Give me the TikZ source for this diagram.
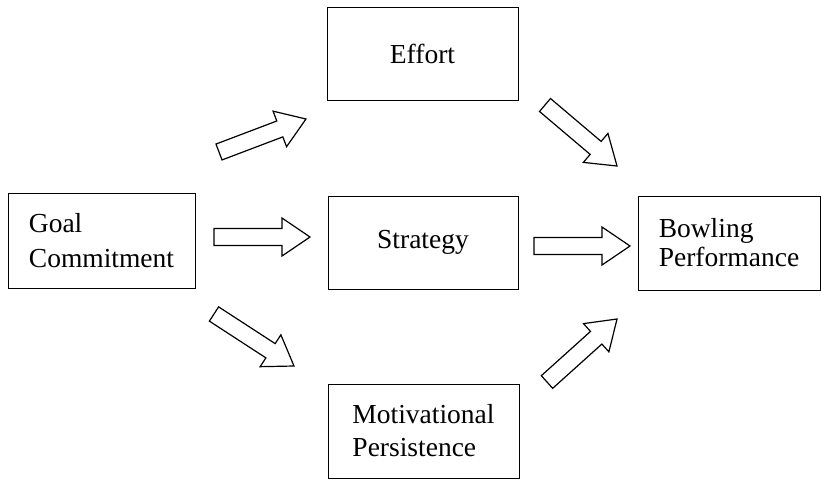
\documentclass[tikz,border=0pt]{standalone}
\usepackage{fontspec}
\setmainfont{Liberation Serif}
\usetikzlibrary{calc, positioning}

\begin{document}
\begin{tikzpicture}[
        x=1pt, y=-1pt,
        font=\fontsize{27.5}{33}\selectfont,
        box/.style={
            rectangle,
            draw=black,
            line width=1pt,
            align=left,
            inner sep=0pt,
            minimum width=190pt,
            minimum height=93pt
        },
        fatarrow/.style={
            draw=black,
            fill=white,
            line width=1.2pt,
            line join=miter,
            to path={
                ($(\tikztostart)!8.5pt!90:(\tikztotarget)$)
                -- ($(\tikztotarget)!28pt!(\tikztostart)!8.5pt!90:(\tikztotarget)$)
                -- ($(\tikztotarget)!28pt!(\tikztostart)!19pt!90:(\tikztotarget)$)
                -- (\tikztotarget)
                -- ($(\tikztotarget)!28pt!(\tikztostart)!19pt!-90:(\tikztotarget)$)
                -- ($(\tikztotarget)!28pt!(\tikztostart)!8.5pt!-90:(\tikztotarget)$)
                -- ($(\tikztostart)!8.5pt!-90:(\tikztotarget)$)
                -- cycle
            }
        }
    ]

    \useasboundingbox (0,0) rectangle (821,480);

    % Boxes
    \node[box, minimum width=187pt, minimum height=95pt, font=\fontsize{27.5}{35}\selectfont] (goal) at (101.5,240.5) {Goal\\Commitment};
    \node[box, minimum width=191pt] (effort) at (422.5,53.5) {Effort};
    \node[box] (strategy) at (423,242.5) {Strategy};
    \node[box, minimum width=182pt, minimum height=94pt, font=\fontsize{27.5}{29}\selectfont] (bowling) at (729,243) {Bowling\\Performance};
    \node[box, minimum width=191pt, minimum height=94pt] (motiv) at (423.5,431) {Motivational\\Persistence};

    % Arrow ends
    \coordinate (ge1) at (219,152);
    \coordinate (ge2) at (306,119);
    \coordinate (gs1) at (214,237);
    \coordinate (gs2) at (310,237);
    \coordinate (gm1) at (214,314);
    \coordinate (gm2) at (294,366);
    \coordinate (eb1) at (545,105);
    \coordinate (eb2) at (617,166);
    \coordinate (sb1) at (534,246);
    \coordinate (sb2) at (630,246);
    \coordinate (mb1) at (547,382);
    \coordinate (mb2) at (617,319);

    % Block arrows
    \draw[fatarrow] (ge1) to (ge2);
    \draw[fatarrow] (gs1) to (gs2);
    \draw[fatarrow] (gm1) to (gm2);
    \draw[fatarrow] (eb1) to (eb2);
    \draw[fatarrow] (sb1) to (sb2);
    \draw[fatarrow] (mb1) to (mb2);

\end{tikzpicture}
\end{document}
